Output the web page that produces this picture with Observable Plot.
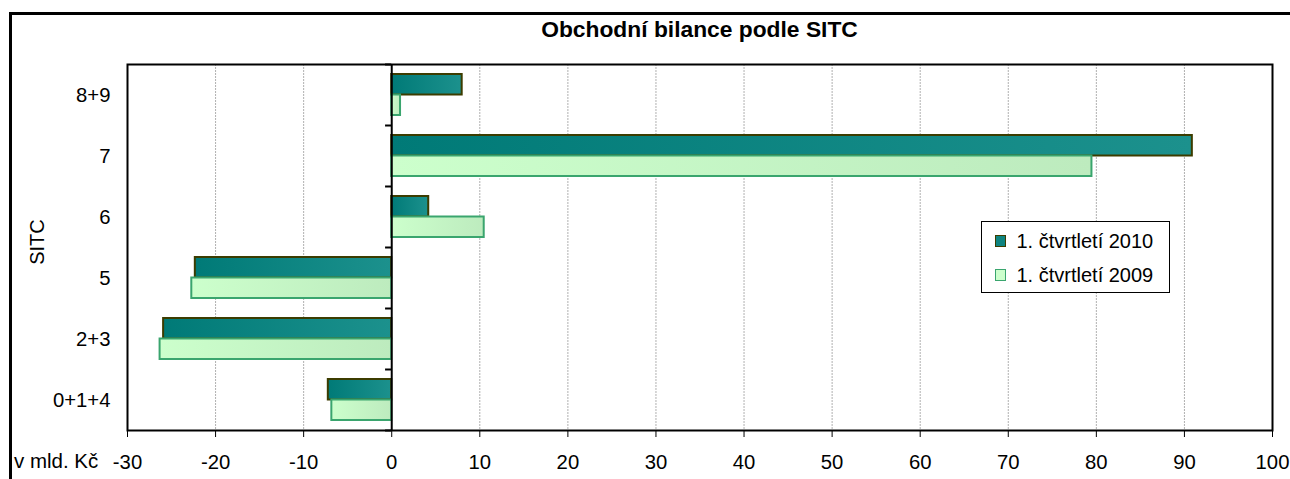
<!DOCTYPE html>
<html><head><meta charset="utf-8">
<script src="https://cdn.jsdelivr.net/npm/d3@7"></script>
<script src="https://cdn.jsdelivr.net/npm/@observablehq/plot@0.6"></script>
<style>
html,body{margin:0;padding:0;background:#fff;overflow:hidden;}
#wrap{position:relative;width:1290px;height:479px;overflow:hidden;font-family:"Liberation Sans",Arial,sans-serif;color:#000;}
#frame{position:absolute;left:9px;top:12px;width:1400px;height:600px;border:3px solid #000;box-sizing:border-box;pointer-events:none;}
#chart{position:absolute;left:0;top:0;}
#title{position:absolute;left:127px;width:1145px;top:17.6px;line-height:23px;text-align:center;font-weight:bold;font-size:22.8px;white-space:nowrap;}
#xlab{position:absolute;left:14px;top:451.4px;font-size:20.5px;line-height:20px;white-space:nowrap;}
#ylab{position:absolute;left:-13px;top:231.5px;width:100px;height:20px;font-size:20px;line-height:20px;text-align:center;transform:rotate(-90deg);}
#legend{position:absolute;left:981px;top:221px;width:189px;height:72px;box-sizing:border-box;border:1.5px solid #000;background:#fff;}
.row{position:absolute;left:0;height:20px;line-height:20px;font-size:20px;white-space:nowrap;}
.sw{position:absolute;left:12.5px;width:11.5px;height:11.5px;box-sizing:border-box;border:1.5px solid;}
.lt{position:absolute;left:34.5px;top:0;}
</style>
</head><body>
<div id="wrap">
  <div id="chart"></div>
  <div id="title"></div>
  <div id="xlab"></div>
  <div id="ylab"></div>
  <div id="legend"></div>
  <div id="frame"></div>
</div>
<script>
const title = "Obchodní bilance podle SITC";
const xLabel = "v mld. Kč";
const yLabel = "SITC";
const categories = ["8+9", "7", "6", "5", "2+3", "0+1+4"];
const seriesNames = ["1. čtvrtletí 2010", "1. čtvrtletí 2009"];
const values2010 = [8.0, 90.9, 4.2, -22.3, -25.9, -7.2];
const values2009 = [1.0, 79.5, 10.5, -22.7, -26.3, -6.8];
const xTicks = [-30, -20, -10, 0, 10, 20, 30, 40, 50, 60, 70, 80, 90, 100];

const rows2010 = categories.map((c, i) => ({category: c, value: values2010[i]}));
const rows2009 = categories.map((c, i) => ({category: c, value: values2009[i]}));

const plot = Plot.plot({
  width: 1290, height: 479,
  marginLeft: 127, marginRight: 18, marginTop: 64, marginBottom: 49,
  style: {fontFamily: "Liberation Sans, Arial, sans-serif", fontSize: "20.3px", background: "transparent", color: "#000", overflow: "visible"},
  x: {domain: [-30, 100], ticks: xTicks, tickSize: 7, tickPadding: 17, label: null, tickFormat: d => String(d)},
  y: {domain: categories, padding: 0, tickSize: 0, tickPadding: 17, label: null},
  marks: [
    Plot.ruleX(xTicks.filter(d => d !== -30 && d !== 0 && d !== 100), {stroke: "#b0b0b0", strokeDasharray: "2,1", strokeWidth: 1}),
    Plot.barX(rows2010, {x: "value", y: "category", fill: "url(#g2010)", stroke: "#3c3c00", strokeWidth: 2, insetTop: 10, insetBottom: 30.5}),
    Plot.barX(rows2009, {x: "value", y: "category", fill: "url(#g2009)", stroke: "#3aa56e", strokeWidth: 2, insetTop: 30.5, insetBottom: 10}),
    Plot.frame({stroke: "#000", strokeWidth: 2}),
    Plot.ruleX([0], {stroke: "#000", strokeWidth: 2}),
    Plot.ruleY(categories, {y: d => d, x1: -0.7, x2: 0, stroke: "#000", strokeWidth: 2, dy: -30.5}),
    Plot.ruleY([categories[categories.length - 1]], {y: d => d, x1: -0.7, x2: 0, stroke: "#000", strokeWidth: 2, dy: 30.5})
  ]
});

d3.select(plot).insert("defs", ":first-child").html(`
  <linearGradient id="g2010" x1="0" y1="0" x2="1" y2="0">
    <stop offset="0" stop-color="#007a77"/><stop offset="1" stop-color="#1c918d"/>
  </linearGradient>
  <linearGradient id="g2009" x1="0" y1="0" x2="1" y2="0">
    <stop offset="0" stop-color="#ccffcc"/><stop offset="1" stop-color="#bdebbe"/>
  </linearGradient>`);

document.getElementById("chart").appendChild(plot);
document.getElementById("title").textContent = title;
document.getElementById("xlab").textContent = xLabel;
document.getElementById("ylab").textContent = yLabel;

const legend = document.getElementById("legend");
const legendStyles = [{fill: "#0e8480", stroke: "#3c3c00"}, {fill: "#ccffcc", stroke: "#3aa56e"}];
seriesNames.forEach((name, i) => {
  const row = document.createElement("div");
  row.className = "row";
  row.style.top = (8.5 + i * 34) + "px";
  const sw = document.createElement("div");
  sw.className = "sw";
  sw.style.top = "4.5px";
  sw.style.background = legendStyles[i].fill;
  sw.style.borderColor = legendStyles[i].stroke;
  const t = document.createElement("span");
  t.className = "lt";
  t.textContent = name;
  row.appendChild(sw);
  row.appendChild(t);
  legend.appendChild(row);
});
</script>
</body></html>
